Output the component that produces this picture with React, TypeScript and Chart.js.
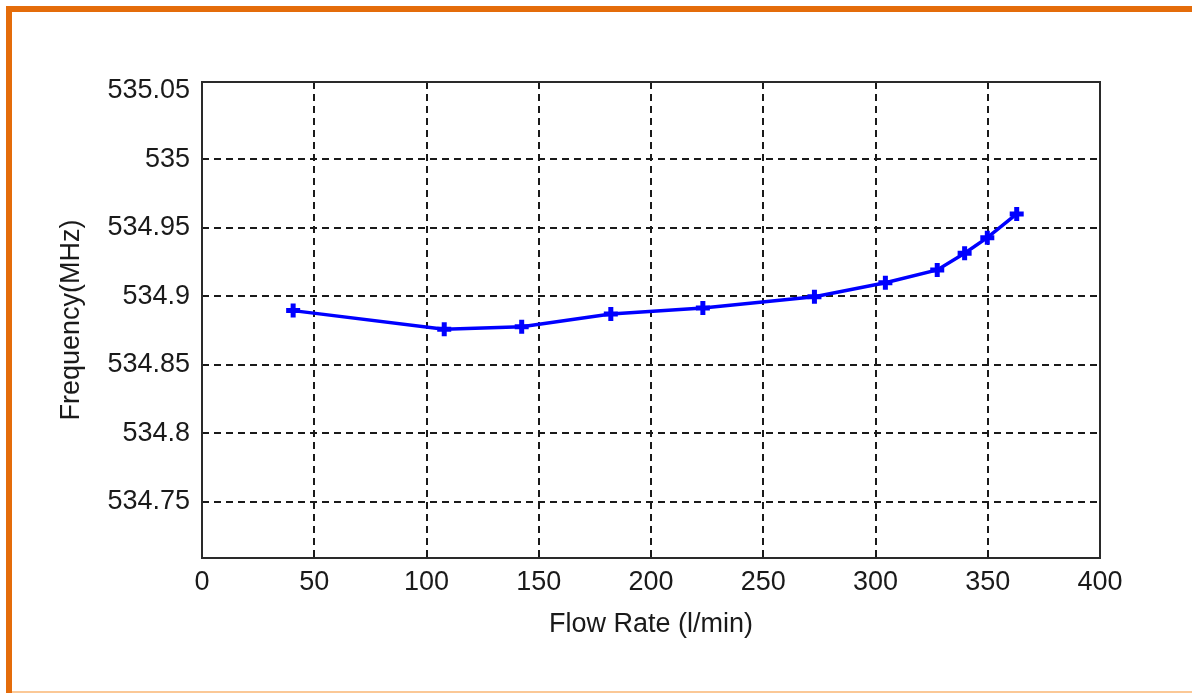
import React, { useEffect, useRef } from "react";
import { Chart, registerables } from "chart.js";

Chart.register(...registerables);

const flowRate = [40.6, 107.9, 142.4, 182.1, 223.1, 272.8, 304.4, 327.5, 339.7, 349.8, 362.9];
const frequency = [534.8896, 534.876, 534.8779, 534.8871, 534.8915, 534.8998, 534.910, 534.9193, 534.9315, 534.9429, 534.9602];
const xTicks = [0, 50, 100, 150, 200, 250, 300, 350, 400];
const yTicks = [534.75, 534.8, 534.85, 534.9, 534.95, 535, 535.05];
const xTitle = "Flow Rate (l/min)";
const yTitle = "Frequency(MHz)";

const FONT = "'Liberation Sans', Arial, sans-serif";

const boxPlugin = {
  id: "boxPlugin",
  afterDraw(chart: any) {
    const { ctx, chartArea } = chart;
    ctx.save();
    ctx.strokeStyle = "#2a2a2a";
    ctx.lineWidth = 2;
    ctx.strokeRect(chartArea.left, chartArea.top, chartArea.right - chartArea.left, chartArea.bottom - chartArea.top);
    ctx.restore();
  },
};

export default function App() {
  const ref = useRef<HTMLCanvasElement | null>(null);
  useEffect(() => {
    document.body.style.margin = "0";
    const canvas = ref.current!;
    const chart = new Chart(canvas, {
      type: "line",
      data: {
        datasets: [
          {
            data: flowRate.map((x, i) => ({ x, y: frequency[i] })),
            borderColor: "#0000ff",
            backgroundColor: "#0000ff",
            borderWidth: 3.5,
            pointStyle: "cross",
            pointRadius: 7,
            pointBorderWidth: 5,
            pointBorderColor: "#0000ff",
            tension: 0,
          },
        ],
      },
      options: {
        animation: false,
        responsive: false,
        devicePixelRatio: 1,
        layout: { padding: { left: 55, right: 92, top: 82, bottom: 52 } },
        plugins: { legend: { display: false }, tooltip: { enabled: false } },
        scales: {
          x: {
            type: "linear",
            min: 0,
            max: 400,
            afterBuildTicks: (s: any) => {
              s.ticks = xTicks.map((v) => ({ value: v }));
            },
            afterFit: (s: any) => {
              s.height = 83;
            },
            ticks: {
              color: "#1a1a1a",
              font: { family: FONT, size: 27 },
              padding: 8,
              maxRotation: 0,
              callback: (v: any) => String(v),
            },
            grid: {
              drawTicks: false,
              lineWidth: 2,
              color: (c: any) => (c.tick && (c.tick.value === 0 || c.tick.value === 400) ? "rgba(0,0,0,0)" : "#1a1a1a"),
            },
            border: { display: false, dash: [7, 5] },
            title: {
              display: true,
              text: xTitle,
              color: "#1a1a1a",
              font: { family: FONT, size: 27 },
              padding: 0,
            },
          },
          y: {
            type: "linear",
            min: 534.7089,
            max: 535.0566,
            afterBuildTicks: (s: any) => {
              s.ticks = yTicks.map((v) => ({ value: v }));
            },
            afterFit: (s: any) => {
              s.width = 147;
            },
            ticks: {
              color: "#1a1a1a",
              font: { family: FONT, size: 27 },
              padding: 12,
              callback: (v: any) => String(Number(Number(v).toFixed(2))),
            },
            grid: {
              drawTicks: false,
              lineWidth: 2,
              color: (c: any) => (c.tick && Math.abs(c.tick.value - 535.05) < 1e-6 ? "rgba(0,0,0,0)" : "#1a1a1a"),
            },
            border: { display: false, dash: [7, 5] },
            title: {
              display: true,
              text: yTitle,
              color: "#1a1a1a",
              font: { family: FONT, size: 27 },
              padding: 0,
            },
          },
        },
      },
      plugins: [boxPlugin],
    });
    return () => chart.destroy();
  }, []);

  return (
    <div style={{ position: "fixed", left: 0, top: 0, width: 1192, height: 693, background: "#ffffff" }}>
      <canvas ref={ref} width={1192} height={693} style={{ position: "absolute", left: 0, top: 0 }} />
      <div style={{ position: "absolute", left: 6, top: 6, width: 1186, height: 6, background: "#e46c0a" }} />
      <div style={{ position: "absolute", left: 6, top: 6, width: 6, height: 687, background: "#e46c0a" }} />
      <div style={{ position: "absolute", left: 12, top: 691, width: 1180, height: 2, background: "#fbc896" }} />
    </div>
  );
}
